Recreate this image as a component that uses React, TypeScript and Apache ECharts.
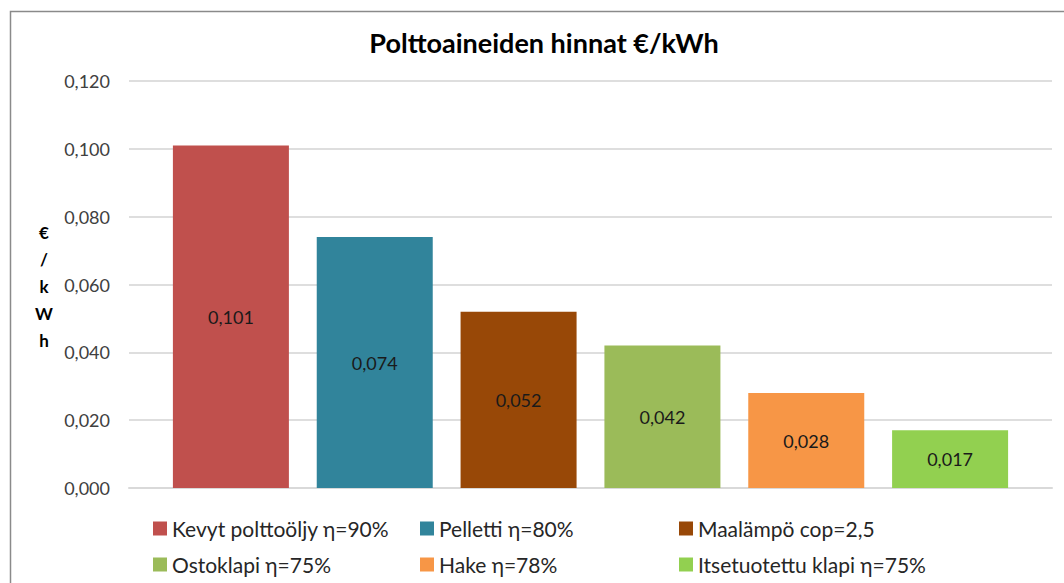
import React, { useEffect, useRef } from "react";
import * as echarts from "echarts";

const titleText = "Polttoaineiden hinnat €/kWh";
const yAxisLetters = ["€", "/", "k", "W", "h"];
const seriesNames = [
  "Kevyt polttoöljy η=90%",
  "Pelletti η=80%",
  "Maalämpö cop=2,5",
  "Ostoklapi η=75%",
  "Hake η=78%",
  "Itsetuotettu klapi η=75%",
];
const seriesValues = [0.101, 0.074, 0.052, 0.042, 0.028, 0.017];
const seriesColors = ["#C0504D", "#31849B", "#984807", "#9BBB59", "#F79646", "#92D050"];
const yMin = 0;
const yMax = 0.12;
const yInterval = 0.02;

const FONT = "Lato, 'Open Sans', sans-serif";
const fmt = (v: number) => v.toFixed(3).replace(".", ",");

const legendPos = [
  { left: 153, top: 518 },
  { left: 420, top: 518 },
  { left: 679, top: 518 },
  { left: 153, top: 554 },
  { left: 420, top: 554 },
  { left: 679, top: 554 },
];

export default function App() {
  const ref = useRef<HTMLDivElement>(null);
  useEffect(() => {
    if (!ref.current) return;
    const chart = echarts.init(ref.current, null, { renderer: "svg" });
    chart.setOption({
      animation: false,
      backgroundColor: "#ffffff",
      textStyle: { fontFamily: FONT },
      title: {
        text: titleText,
        left: 539,
        top: 24,
        textAlign: "center",
        textStyle: { fontFamily: FONT, fontSize: 27, fontWeight: "bold", color: "#000000" },
      },
      graphic: [
        {
          type: "rect",
          shape: { x: 10.5, y: 11.5, width: 1100, height: 620 },
          style: { fill: "none", stroke: "#8a8a8a", lineWidth: 1.5 },
          silent: true,
        },
        ...yAxisLetters.map((ch, i) => ({
          type: "text",
          x: 44,
          y: 232 + i * 27,
          style: {
            text: ch,
            fontFamily: FONT,
            fontSize: 17,
            fontWeight: "bold",
            fill: "#000000",
            align: "center",
            verticalAlign: "middle",
          },
        })),
      ],
      legend: seriesNames.map((name, i) => ({
        data: [name],
        left: legendPos[i].left,
        top: legendPos[i].top,
        itemWidth: 14,
        itemHeight: 14,
        itemGap: 5,
        icon: "rect",
        selectedMode: false,
        textStyle: { fontFamily: FONT, fontSize: 21, color: "#262626", padding: [0, 0, 0, 0] },
        padding: 0,
      })),
      grid: { left: 129, right: 12, top: 81, bottom: 95, containLabel: false },
      xAxis: {
        type: "category",
        data: [""],
        axisLine: { show: true, lineStyle: { color: "#d9d9d9", width: 2 } },
        axisTick: { show: false },
        axisLabel: { show: false },
      },
      yAxis: {
        type: "value",
        min: yMin,
        max: yMax,
        interval: yInterval,
        axisLine: { show: false },
        axisTick: { show: false },
        axisLabel: {
          formatter: (v: number) => fmt(v),
          fontFamily: FONT,
          fontSize: 18,
          color: "#404040",
          margin: 19,
        },
        splitLine: { lineStyle: { color: "#dedede", width: 2 } },
      },
      series: seriesNames.map((name, i) => ({
        name,
        type: "bar",
        data: [seriesValues[i]],
        barWidth: 116,
        barGap: "24%",
        itemStyle: { color: seriesColors[i] },
        label: {
          show: true,
          position: "inside",
          formatter: (p: any) => fmt(p.value),
          fontFamily: FONT,
          fontSize: 18,
          color: "#1a1a1a",
        },
      })),
    });
    return () => chart.dispose();
  }, []);
  return (
    <div
      ref={ref}
      style={{ position: "fixed", left: 0, top: 0, width: 1064, height: 583 }}
    />
  );
}
